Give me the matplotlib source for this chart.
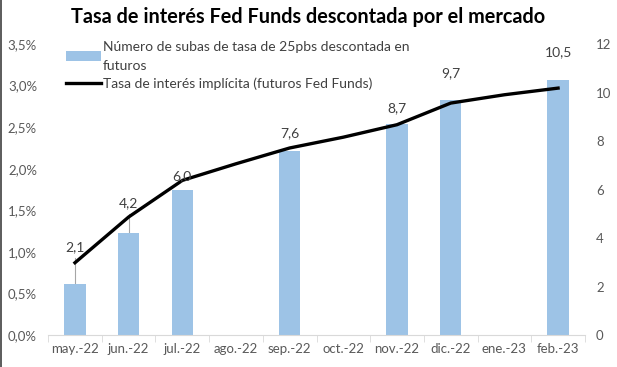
import matplotlib
matplotlib.use("Agg")
import matplotlib.pyplot as plt
from matplotlib.ticker import FuncFormatter
import numpy as np

months = ["may.-22", "jun.-22", "jul.-22", "ago.-22", "sep.-22", "oct.-22",
          "nov.-22", "dic.-22", "ene.-23", "feb.-23"]
hikes = [2.1, 4.2, 6.0, None, 7.6, None, 8.7, 9.7, None, 10.5]
rate = [0.87, 1.42, 1.86, 2.06, 2.25, 2.38, 2.53, 2.79, 2.89, 2.97]
label_pos = [3.63, 5.44, 6.55, None, 8.33, None, 9.36, 10.8, None, 11.67]

plt.rcParams['font.family'] = ['Lato', 'DejaVu Sans']
txt = '#404040'
tick_c = '#595959'

fig = plt.figure(figsize=(6.17, 3.67), dpi=100)
ax = fig.add_axes([0.078, 0.087, 0.870, 0.793])
ax2 = ax.twinx()

x = np.arange(len(months))
bx = [i for i, v in enumerate(hikes) if v is not None]
bv = [hikes[i] for i in bx]
bars = ax2.bar(bx, bv, width=0.4, color='#9dc3e6', zorder=1,
               label='Número de subas de tasa de 25pbs descontada en\nfuturos')
ax2.set_ylim(0, 12)
ax2.set_yticks(range(0, 13, 2))

line, = ax.plot(x, rate, color='black', lw=2.4, zorder=5,
                label='Tasa de interés implícita (futuros Fed Funds)')
ax.set_ylim(0, 3.5)
ax.set_yticks(np.arange(0, 3.51, 0.5))
ax.yaxis.set_major_formatter(FuncFormatter(lambda v, p: f"{v:.1f}%".replace('.', ',')))
ax.set_xlim(-0.5, len(months) - 0.5)
ax.set_xticks(x)
ax.set_xticklabels(months)
ax.set_xticks(np.arange(-0.5, len(months), 1), minor=True)

ax2.set_zorder(0)
ax.set_zorder(2)
ax.patch.set_visible(False)

for a in (ax, ax2):
    for s in a.spines.values():
        s.set_visible(False)
ax.spines['bottom'].set_visible(True)
ax.spines['bottom'].set_color('#d9d9d9')
ax.tick_params(axis='x', which='major', length=0, labelsize=9.5, colors=tick_c, pad=6)
ax.tick_params(axis='x', which='minor', length=5, color='#d9d9d9', direction='out')
ax.tick_params(axis='y', length=0, labelsize=9.5, colors=tick_c, pad=8)
ax2.tick_params(axis='y', length=0, labelsize=9.5, colors=tick_c, pad=8)

# data labels with leader lines
for i in bx:
    v = hikes[i]
    lp = label_pos[i]
    ax.text(i, lp, f"{v:.1f}".replace('.', ','), ha='center', va='center',
            fontsize=10, color=txt, zorder=6, transform=ax2.transData)
    if lp - v > 1.2:
        ax2.plot([i, i], [v, lp - 0.45], color='#a6a6a6', lw=0.8, zorder=0.5)

leg = ax.legend([bars, line], [bars.get_label(), line.get_label()],
                loc='upper left', bbox_to_anchor=(0.01, 1.055), frameon=False,
                fontsize=10, labelcolor=txt, handlelength=2.5, handletextpad=0.15,
                labelspacing=0.4)
for t in leg.get_texts():
    t.set_linespacing(1.7)

fig.text(0.5, 0.955, "Tasa de interés Fed Funds descontada por el mercado",
         ha='center', va='center', fontsize=14.3, fontweight='bold', color='black')

fig.add_artist(plt.Line2D([0.0015, 0.0015], [0, 1], color='#404040', lw=1.2,
                          transform=fig.transFigure))

fig.savefig("out.png", dpi=100)
